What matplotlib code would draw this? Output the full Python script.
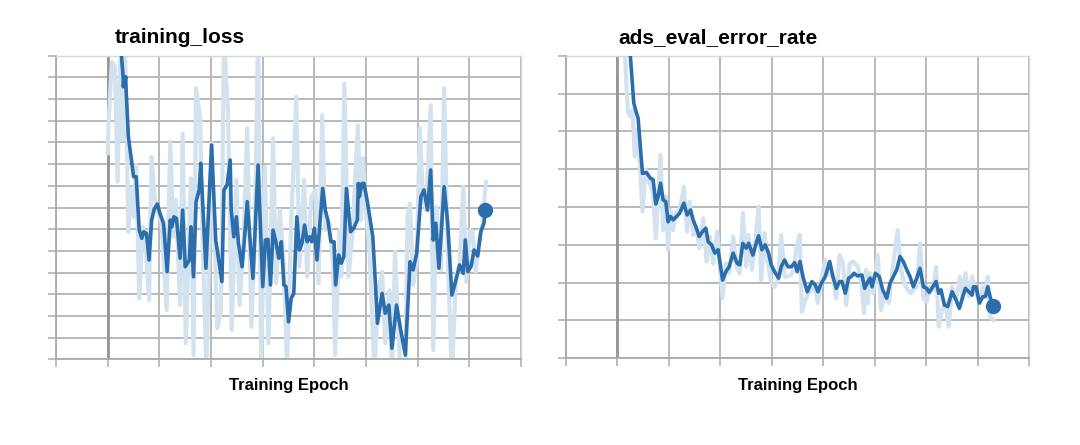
import matplotlib.pyplot as plt
import numpy as np

plt.rcParams['font.family'] = ['Liberation Sans', 'DejaVu Sans']

# -----------------------------
# DATA (grid units)
# -----------------------------
loss_raw_x = [0.0, 0.02, 0.08, 0.14, 0.19, 0.24, 0.28, 0.33, 0.40, 0.44, 0.50, 0.55, 0.61, 0.68, 0.74,
              0.80, 0.85, 0.91, 0.98, 1.04, 1.14, 1.21, 1.27, 1.32, 1.40, 1.45, 1.51, 1.61, 1.66, 1.71,
              1.79, 1.84, 1.91, 2.01, 2.12, 2.19, 2.25, 2.33, 2.40, 2.49, 2.55, 2.62, 2.70, 2.78, 2.84,
              2.91, 2.97, 3.04, 3.11, 3.20, 3.26, 3.33, 3.41, 3.47, 3.55, 3.65, 3.71, 3.80, 3.86, 3.94,
              4.02, 4.08, 4.15, 4.21, 4.29, 4.36, 4.40, 4.49, 4.52, 4.58, 4.66, 4.74, 4.84, 4.90, 4.94,
              5.00, 5.06, 5.16, 5.24, 5.31, 5.37, 5.45, 5.50, 5.56, 5.61, 5.67, 5.76, 5.80, 5.85, 5.91,
              5.98, 6.04, 6.10, 6.16, 6.25, 6.30, 6.36, 6.45, 6.51, 6.58, 6.66, 6.74, 6.81, 6.88, 6.94,
              7.01, 7.06, 7.12, 7.18, 7.25, 7.32]
loss_raw_y = [9.5, 11.04, 13.71, 13.49, 8.19, 13.80, 10.11, 15.0, 5.88, 7.88, 6.57, 8.96, 2.81, 6.11, 5.04,
              2.73, 9.34, 7.34, 6.73, 6.27, 2.27, 10.03, 5.65, 7.34, 2.50, 10.42, 0.74, 8.34, 0.20, 12.49,
              11.11, 5.04, -0.5, 9.96, 1.43, 2.12, 14.8, 11.34, 1.35, 8.27, 2.50, 5.04, 10.65, 1.50, 5.04,
              15.2, -0.5, 8.88, 0.74, 10.19, 3.50, 6.88, 4.27, -0.5, 6.27, 12.11, 4.27, 8.27, 3.81, 7.50,
              7.81, 3.50, 11.26, 5.96, 6.27, 4.43, 0.20, 5.96, 3.81, 12.72, 3.81, 5.96, 10.80, 6.42, 9.27,
              6.57, 5.35, -0.5, 3.19, 4.04, 0.74, 3.19, -0.5, 4.96, 2.12, -0.8, -0.8, 6.57, 7.19, 3.43,
              4.43, 10.65, 7.50, 6.88, 11.72, 0.43, 7.04, 4.12, 12.49, 4.73, -0.8, 3.81, 4.43, 7.96, 3.58,
              5.96, 5.88, 4.04, 5.35, 6.19, 8.19]

loss_smooth_x = [0.0, 0.30, 0.30, 0.35, 0.35, 0.40, 0.50, 0.55, 0.61, 0.66, 0.70, 0.75, 0.80, 0.85, 0.90,
                 0.96, 1.01, 1.08, 1.15, 1.21, 1.24, 1.28, 1.33, 1.40, 1.45, 1.50, 1.58, 1.61, 1.66, 1.71,
                 1.77, 1.80, 1.90, 2.01, 2.09, 2.21, 2.25, 2.31, 2.37, 2.39, 2.44, 2.49, 2.53, 2.60, 2.65,
                 2.70, 2.75, 2.81, 2.91, 3.00, 3.05, 3.10, 3.15, 3.20, 3.26, 3.31, 3.36, 3.41, 3.45, 3.50,
                 3.55, 3.60, 3.66, 3.71, 3.76, 3.81, 3.86, 3.91, 3.95, 4.00, 4.05, 4.16, 4.21, 4.26, 4.32,
                 4.38, 4.41, 4.47, 4.52, 4.57, 4.62, 4.70, 4.76, 4.83, 4.85, 4.87, 4.92, 4.96, 5.03, 5.13,
                 5.18, 5.22, 5.31, 5.37, 5.44, 5.50, 5.59, 5.67, 5.76, 5.85, 5.91, 5.98, 6.06, 6.12, 6.19,
                 6.25, 6.30, 6.35, 6.41, 6.51, 6.58, 6.66, 6.74, 6.81, 6.88, 6.92, 6.97, 7.03, 7.09, 7.16,
                 7.22, 7.28, 7.31]
loss_smooth_y = [22.0, 12.96, 12.57, 13.03, 12.72, 10.26, 8.42, 8.42, 5.96, 5.58, 5.88, 5.81, 4.58, 6.42, 6.92,
                 7.16, 6.73, 6.27, 4.04, 6.42, 6.11, 6.57, 6.50, 4.66, 6.88, 4.27, 4.58, 6.11, 3.81, 7.27,
                 7.81, 9.04, 4.20, 9.88, 5.50, 3.58, 7.81, 8.04, 9.19, 6.88, 5.65, 6.57, 5.35, 4.27, 5.65,
                 7.27, 5.65, 3.73, 8.96, 3.35, 5.50, 5.53, 3.43, 5.96, 5.35, 4.66, 5.42, 3.43, 3.35, 1.73,
                 2.81, 3.04, 6.57, 5.04, 5.35, 6.19, 5.42, 5.65, 5.42, 6.04, 4.58, 7.88, 6.88, 6.42, 5.42,
                 5.42, 3.43, 4.81, 4.43, 4.73, 7.88, 5.88, 6.04, 6.42, 8.11, 7.50, 8.11, 8.11, 7.19, 5.65,
                 3.50, 1.66, 3.04, 2.12, 2.50, 0.51, 2.50, 1.35, 0.20, 4.50, 4.12, 4.89, 7.50, 7.81, 6.88,
                 8.73, 5.50, 6.27, 4.20, 7.96, 6.27, 2.96, 3.66, 4.35, 3.96, 5.50, 4.04, 4.27, 5.04, 4.76,
                 5.88, 6.27, 6.88]

err_raw_x = [0.0, 0.10, 0.18, 0.206, 0.253, 0.292, 0.337, 0.381, 0.420, 0.486, 0.551, 0.615, 0.693, 0.745,
             0.837, 0.887, 0.940, 0.984, 1.031, 1.082, 1.134, 1.212, 1.290, 1.354, 1.407, 1.471, 1.537,
             1.588, 1.665, 1.732, 1.796, 1.860, 1.938, 2.043, 2.107, 2.171, 2.249, 2.315, 2.374, 2.438,
             2.502, 2.549, 2.613, 2.677, 2.743, 2.794, 2.860, 2.924, 2.988, 3.054, 3.119, 3.183, 3.249,
             3.300, 3.366, 3.430, 3.475, 3.541, 3.586, 3.650, 3.716, 3.767, 3.833, 3.897, 3.961, 4.039,
             4.105, 4.189, 4.253, 4.319, 4.383, 4.447, 4.514, 4.578, 4.675, 4.739, 4.792, 4.831, 4.870,
             4.909, 4.973, 5.058, 5.123, 5.206, 5.272, 5.337, 5.447, 5.512, 5.576, 5.642, 5.706, 5.770,
             5.817, 5.881, 5.946, 6.012, 6.076, 6.140, 6.193, 6.245, 6.309, 6.374, 6.440, 6.504, 6.582,
             6.660, 6.712, 6.763, 6.829, 6.893, 6.957, 7.035, 7.101, 7.152, 7.198, 7.243, 7.307]
err_raw_y = [13.0, 9.5, 7.02, 6.52, 6.39, 6.57, 5.33, 6.04, 5.51, 3.88, 4.98, 4.67, 4.37, 3.17,
             5.38, 3.39, 4.28, 2.87, 3.92, 3.39, 3.84, 3.92, 4.54, 3.35, 4.14, 3.26, 3.48,
             2.91, 3.70, 2.56, 3.22, 2.51, 3.35, 1.59, 2.51, 2.25, 3.22, 2.42, 2.25, 3.84,
             2.42, 3.26, 2.34, 3.04, 4.01, 2.07, 3.31, 2.51, 1.98, 1.89, 2.07, 3.26, 2.16,
             2.16, 2.20, 2.34, 2.91, 3.26, 1.23, 1.54, 1.72, 1.81, 1.89, 1.46, 2.07, 2.60,
             2.25, 2.12, 1.59, 2.73, 2.51, 1.41, 2.51, 2.56, 2.42, 1.98, 1.19, 2.34, 1.46,
             2.25, 1.72, 2.73, 1.28, 1.72, 1.46, 2.25, 3.39, 2.34, 1.98, 1.81, 1.72, 1.85,
             1.89, 3.04, 1.59, 1.50, 1.89, 1.81, 2.42, 0.84, 1.28, 1.46, 0.84, 1.89, 1.54,
             2.16, 1.54, 2.25, 1.63, 2.16, 1.81, 1.46, 1.89, 1.72, 2.16, 1.10, 1.01]

err_smooth_x = [0.0, 0.25, 0.317, 0.370, 0.401, 0.486, 0.564, 0.642, 0.693, 0.745, 0.790, 0.837, 0.887,
                0.940, 0.984, 1.031, 1.082, 1.134, 1.212, 1.290, 1.354, 1.420, 1.471, 1.523, 1.588, 1.654,
                1.718, 1.763, 1.829, 1.893, 1.957, 2.043, 2.107, 2.171, 2.249, 2.327, 2.379, 2.436, 2.502,
                2.549, 2.632, 2.677, 2.743, 2.807, 2.872, 2.938, 2.988, 3.054, 3.132, 3.183, 3.249, 3.313,
                3.377, 3.444, 3.494, 3.547, 3.605, 3.689, 3.780, 3.844, 3.897, 3.961, 4.039, 4.125, 4.189,
                4.253, 4.319, 4.364, 4.428, 4.494, 4.545, 4.597, 4.661, 4.753, 4.805, 4.870, 4.909, 4.948,
                5.012, 5.089, 5.156, 5.233, 5.298, 5.362, 5.428, 5.492, 5.556, 5.623, 5.687, 5.751, 5.817,
                5.881, 5.946, 6.012, 6.062, 6.128, 6.193, 6.245, 6.290, 6.354, 6.420, 6.504, 6.582, 6.646,
                6.712, 6.763, 6.829, 6.893, 6.918, 6.971, 7.035, 7.101, 7.152, 7.198, 7.243, 7.296]
err_smooth_y = [12.5, 8.0, 6.75, 6.48, 6.35, 4.89, 4.91, 4.76, 4.72, 4.08, 4.28, 4.63, 4.19,
                4.14, 3.61, 3.75, 3.66, 3.73, 3.84, 4.10, 3.79, 3.92, 3.66, 3.48, 3.22, 3.35,
                3.44, 3.08, 3.00, 2.78, 2.87, 2.07, 2.29, 2.42, 2.78, 2.51, 2.47, 3.04, 2.91,
                3.04, 2.73, 2.95, 3.24, 2.87, 3.00, 2.78, 2.47, 2.29, 2.12, 2.42, 2.60, 2.42,
                2.42, 2.53, 2.29, 2.56, 2.16, 1.76, 2.03, 1.94, 1.76, 1.98, 2.16, 2.56, 2.16,
                1.85, 2.03, 2.03, 1.72, 2.12, 2.16, 2.25, 2.18, 2.20, 1.85, 2.03, 2.12, 1.89,
                2.25, 2.16, 1.81, 1.59, 1.98, 2.16, 2.34, 2.69, 2.56, 2.34, 2.16, 1.89, 2.12,
                2.38, 1.89, 1.85, 1.74, 1.89, 2.03, 1.72, 1.81, 1.41, 1.37, 1.76, 1.54, 1.32,
                1.63, 1.85, 1.76, 1.67, 1.89, 1.89, 1.46, 1.63, 1.63, 1.89, 1.63, 1.37]

titles = ["training_loss", "ads_eval_error_rate"]
x_label = "Training Epoch"

DARK = '#2c6dab'
LIGHT = '#d2e2ef'
GRID = '#b9b9b9'


def style_axis(ax, ymax):
    ax.set_xlim(-1, 8)
    ax.set_ylim(0, ymax)
    ax.set_xticks(np.arange(-1, 9))
    ax.set_yticks(np.arange(0, ymax + 1))
    ax.set_xticklabels([])
    ax.set_yticklabels([])
    ax.grid(True, color=GRID, linewidth=1.4, zorder=0)
    ax.axvline(0, color='#959595', linewidth=2.0, zorder=1)
    ax.tick_params(length=6, width=1.3, color=GRID)
    for side in ['left', 'bottom']:
        ax.spines[side].set_color('#aaaaaa')
        ax.spines[side].set_linewidth(1.3)
    for side in ['top', 'right']:
        ax.spines[side].set_color('#d8d8d8')
        ax.spines[side].set_linewidth(1.0)
    ax.set_axisbelow(True)


fig = plt.figure(figsize=(10.8, 4.45), dpi=100)
ax1 = fig.add_axes([0.0519, 0.1926, 0.4306, 0.6822])
ax2 = fig.add_axes([0.5241, 0.1948, 0.4287, 0.6800])

style_axis(ax1, 14)
ax1.plot(loss_raw_x, loss_raw_y, color=LIGHT, linewidth=3.0, zorder=2)
ax1.plot(loss_smooth_x, loss_smooth_y, color=DARK, linewidth=2.6, zorder=3)
ax1.plot(loss_smooth_x[-1], loss_smooth_y[-1], 'o', color=DARK, markersize=10, zorder=4)

style_axis(ax2, 8)
ax2.plot(err_raw_x, err_raw_y, color=LIGHT, linewidth=3.0, zorder=2)
ax2.plot(err_smooth_x, err_smooth_y, color=DARK, linewidth=2.6, zorder=3)
ax2.plot(err_smooth_x[-1], err_smooth_y[-1], 'o', color=DARK, markersize=10, zorder=4)

fig.text(115 / 1080, 1 - 43 / 445, titles[0], fontsize=15, fontweight='bold', ha='left', va='baseline')
fig.text(618 / 1080, 1 - 43 / 445, titles[1], fontsize=15, fontweight='bold', ha='left', va='baseline')
fig.text(288.5 / 1080, 1 - 390 / 445, x_label, fontsize=12, fontweight='bold', ha='center', va='baseline')
fig.text(797.5 / 1080, 1 - 390 / 445, x_label, fontsize=12, fontweight='bold', ha='center', va='baseline')

fig.savefig('out.png', dpi=100)
